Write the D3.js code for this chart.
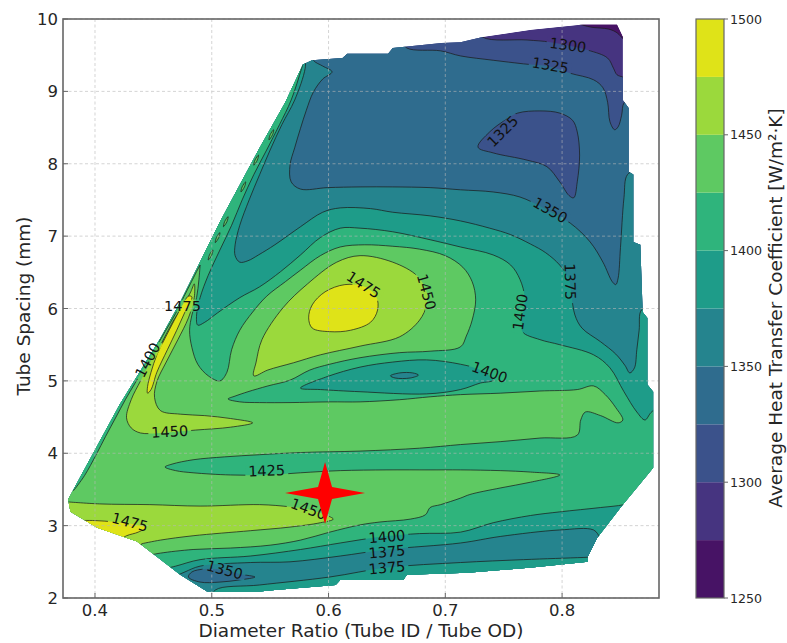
<!DOCTYPE html>
<html>
<head>
<meta charset="utf-8">
<script src="https://cdnjs.cloudflare.com/ajax/libs/d3/7.8.5/d3.min.js"></script>
<style>
  body { margin: 0; background: #fff; }
  text { font-family: "DejaVu Sans", sans-serif; }
</style>
</head>
<body>
<svg id="chart" width="787" height="643"></svg>
<script>
// tick values
const xTicks = [0.4, 0.5, 0.6, 0.7, 0.8];
const yTicks = [2, 3, 4, 5, 6, 7, 8, 9, 10];
const levels = [1250, 1275, 1300, 1325, 1350, 1375, 1400, 1425, 1450, 1475, 1500];
const cbarTicks = [1250, 1300, 1350, 1400, 1450, 1500];

// region where the data exists (diameter ratio, spacing)
const hullOutline = [[0.586,9.43],[0.612,9.46],[0.616,9.52],[0.651,9.52],[0.655,9.60],[0.697,9.67],[0.713,9.68],[0.732,9.75],[0.774,9.85],[0.816,9.92],[0.847,9.92],[0.852,9.75],[0.852,8.88],[0.857,8.77],[0.857,7.89],[0.861,7.85],[0.861,6.92],[0.867,6.88],[0.869,5.95],[0.873,5.87],[0.873,4.95],[0.878,4.85],[0.878,3.80],[0.873,3.70],[0.852,3.29],[0.830,2.83],[0.822,2.57],[0.822,2.50],[0.774,2.42],[0.719,2.35],[0.667,2.32],[0.664,2.25],[0.610,2.25],[0.606,2.18],[0.554,2.11],[0.541,2.09],[0.496,2.09],[0.473,2.32],[0.436,2.78],[0.402,2.97],[0.379,3.19],[0.377,3.36],[0.387,3.66],[0.421,4.67],[0.456,5.59],[0.473,6.09],[0.507,7.20],[0.541,8.22],[0.563,8.85],[0.578,9.37]];

// contour lines
const line1275 = [[0.809,9.96],[0.824,9.89],[0.840,9.86],[0.847,9.81],[0.853,9.71]];
const edge1275 = [[0.867,9.71],[0.867,10.12],[0.809,10.12]];
const line1300 = [[0.726,9.92],[0.732,9.75],[0.770,9.71],[0.790,9.68],[0.822,9.57],[0.839,9.46],[0.844,9.32],[0.847,9.23],[0.852,9.20],[0.860,9.17]];
const line1325 = [[0.661,9.74],[0.667,9.60],[0.696,9.56],[0.713,9.49],[0.741,9.43],[0.767,9.38],[0.790,9.34],[0.807,9.25],[0.827,9.16],[0.835,9.05],[0.839,8.85],[0.841,8.58],[0.845,8.47],[0.848,8.51],[0.851,8.67],[0.853,8.84],[0.860,8.91]];
const island1325 = [[0.728,8.23],[0.738,8.44],[0.751,8.60],[0.762,8.70],[0.781,8.73],[0.798,8.70],[0.809,8.60],[0.813,8.44],[0.815,8.12],[0.813,7.75],[0.810,7.53],[0.806,7.56],[0.798,7.75],[0.787,7.96],[0.770,8.05],[0.741,8.15]];
const line1350 = [[0.583,9.64],[0.587,9.43],[0.595,9.35],[0.603,9.27],[0.595,9.17],[0.587,8.99],[0.581,8.74],[0.576,8.49],[0.571,8.22],[0.567,7.98],[0.568,7.75],[0.576,7.65],[0.599,7.67],[0.627,7.68],[0.655,7.68],[0.687,7.67],[0.713,7.64],[0.741,7.61],[0.764,7.54],[0.784,7.39],[0.807,7.18],[0.824,6.92],[0.835,6.64],[0.843,6.37],[0.846,6.33],[0.848,6.42],[0.850,6.84],[0.853,7.53],[0.856,7.85],[0.867,7.94]];
const line1375 = [[0.580,9.50],[0.580,9.32],[0.571,8.88],[0.560,8.54],[0.550,8.19],[0.541,7.85],[0.532,7.50],[0.524,7.15],[0.520,6.88],[0.520,6.73],[0.524,6.64],[0.531,6.66],[0.540,6.74],[0.554,6.88],[0.576,7.13],[0.595,7.33],[0.610,7.39],[0.636,7.38],[0.655,7.33],[0.687,7.28],[0.713,7.21],[0.738,7.11],[0.756,7.02],[0.773,6.89],[0.786,6.77],[0.798,6.60],[0.806,6.40],[0.808,6.19],[0.811,5.91],[0.817,5.73],[0.833,5.54],[0.846,5.37],[0.854,5.21],[0.858,5.11],[0.862,5.18],[0.864,5.43],[0.866,5.70],[0.868,5.98],[0.880,6.05]];
const line1400 = [[0.581,9.54],[0.577,9.32],[0.568,8.88],[0.558,8.54],[0.547,8.19],[0.536,7.85],[0.526,7.50],[0.517,7.15],[0.507,6.81],[0.497,6.46],[0.490,6.15],[0.487,5.91],[0.488,5.77],[0.494,5.81],[0.505,5.94],[0.524,6.15],[0.541,6.30],[0.559,6.51],[0.576,6.74],[0.593,6.98],[0.610,7.11],[0.627,7.11],[0.655,7.06],[0.687,6.95],[0.713,6.85],[0.741,6.74],[0.756,6.60],[0.764,6.40],[0.768,6.15],[0.766,5.87],[0.766,5.68],[0.781,5.57],[0.798,5.50],[0.827,5.36],[0.841,5.18],[0.853,4.85],[0.864,4.57],[0.871,4.46],[0.876,4.56],[0.884,4.67]];
const blobs1425 = [
  [[0.553,8.47],[0.552,8.40],[0.549,8.33],[0.550,8.40]],
  [[0.540,8.12],[0.539,8.05],[0.536,7.98],[0.537,8.05]],
  [[0.529,7.75],[0.528,7.68],[0.525,7.61],[0.526,7.68]],
  [[0.514,7.27],[0.513,7.20],[0.510,7.13],[0.511,7.20]],
  [[0.507,7.05],[0.506,6.98],[0.503,6.91],[0.504,6.98]],
  [[0.501,6.81],[0.500,6.74],[0.497,6.67],[0.498,6.74]]
];
const line1425 = [[0.490,6.60],[0.489,6.40],[0.487,6.15],[0.483,5.91],[0.481,5.70],[0.483,5.46],[0.488,5.23],[0.497,5.07],[0.507,5.00],[0.513,5.12],[0.517,5.43],[0.524,5.70],[0.535,5.95],[0.547,6.17],[0.563,6.37],[0.576,6.53],[0.593,6.73],[0.610,6.85],[0.631,6.88],[0.655,6.86],[0.678,6.82],[0.700,6.73],[0.715,6.57],[0.723,6.37],[0.726,6.12],[0.723,5.84],[0.718,5.62],[0.713,5.47],[0.687,5.41],[0.661,5.39],[0.627,5.32],[0.601,5.23],[0.584,5.15],[0.567,5.01],[0.548,4.93],[0.531,4.85],[0.520,4.79],[0.514,4.75],[0.524,4.71],[0.541,4.70],[0.567,4.70],[0.601,4.71],[0.627,4.71],[0.661,4.74],[0.687,4.78],[0.713,4.81],[0.747,4.83],[0.781,4.86],[0.813,4.88],[0.827,4.93],[0.837,4.81],[0.846,4.63],[0.852,4.46],[0.848,4.42],[0.833,4.52],[0.820,4.57],[0.816,4.46],[0.813,4.25],[0.781,4.21],[0.747,4.16],[0.713,4.12],[0.678,4.07],[0.627,4.03],[0.576,4.01],[0.541,3.98],[0.511,3.95],[0.484,3.91],[0.466,3.85],[0.460,3.81],[0.469,3.76],[0.484,3.73],[0.516,3.70],[0.547,3.70],[0.576,3.73],[0.610,3.76],[0.650,3.77],[0.687,3.77],[0.713,3.77],[0.747,3.76],[0.773,3.74],[0.798,3.70],[0.773,3.60],[0.747,3.52],[0.721,3.43],[0.713,3.38],[0.696,3.29],[0.687,3.25],[0.683,3.15],[0.670,3.09],[0.644,3.05],[0.627,3.01],[0.601,2.91],[0.576,2.80],[0.550,2.73],[0.516,2.69],[0.484,2.67],[0.456,2.62],[0.443,2.58]];
const edge1425 = [[0.434,2.32],[0.404,2.46],[0.366,3.08],[0.361,3.47]];
const ridge1425 = [[0.382,3.49],[0.391,3.69],[0.401,3.98],[0.409,4.23],[0.418,4.50],[0.426,4.74],[0.434,4.96],[0.442,5.18],[0.451,5.43],[0.460,5.68],[0.469,5.93],[0.476,6.16],[0.482,6.35],[0.487,6.51]];
const loop1450 = [[0.536,5.07],[0.538,5.26],[0.543,5.57],[0.561,6.01],[0.582,6.34],[0.607,6.64],[0.627,6.73],[0.655,6.64],[0.676,6.45],[0.684,6.23],[0.684,6.05],[0.678,5.84],[0.661,5.61],[0.627,5.48],[0.593,5.36],[0.570,5.25],[0.548,5.15]];
const ridge1450 = [[0.485,6.34],[0.485,6.15],[0.480,5.87],[0.471,5.57],[0.461,5.26],[0.453,4.99],[0.451,4.77],[0.456,4.59],[0.473,4.54],[0.494,4.52],[0.516,4.48],[0.535,4.42],[0.516,4.36],[0.486,4.32],[0.456,4.28],[0.439,4.28],[0.431,4.35],[0.427,4.49],[0.431,4.74],[0.439,5.00],[0.447,5.25],[0.457,5.52],[0.466,5.80],[0.476,6.05],[0.482,6.23]];
const low1450 = [[0.375,3.33],[0.404,3.30],[0.447,3.29],[0.490,3.27],[0.541,3.29],[0.567,3.26],[0.584,3.22],[0.597,3.15],[0.604,3.09],[0.593,3.04],[0.567,2.98],[0.533,2.93],[0.484,2.86],[0.456,2.80],[0.440,2.75]];
const edge1450 = [[0.437,2.53],[0.396,2.53],[0.353,3.08],[0.353,3.36]];
const peak1475 = [[0.583,5.87],[0.586,6.05],[0.597,6.23],[0.614,6.33],[0.631,6.30],[0.641,6.16],[0.642,5.98],[0.636,5.81],[0.619,5.70],[0.601,5.68],[0.586,5.73]];
const ridge1475 = [[0.483,6.16],[0.477,5.95],[0.470,5.70],[0.462,5.43],[0.453,5.12],[0.448,4.88],[0.445,4.83],[0.445,4.92],[0.448,5.12],[0.453,5.36],[0.460,5.59],[0.468,5.84],[0.475,6.05],[0.480,6.17]];
const low1475 = [[0.385,3.07],[0.400,3.07],[0.417,3.05],[0.433,3.02],[0.443,2.97],[0.437,2.91],[0.427,2.86],[0.420,2.79]];
const edge1475 = [[0.404,2.73],[0.379,2.94]];
const pit1400 = [[0.576,4.90],[0.599,5.06],[0.627,5.19],[0.655,5.26],[0.684,5.29],[0.713,5.23],[0.730,5.15],[0.741,5.01],[0.730,4.97],[0.713,4.88],[0.684,4.82],[0.627,4.85],[0.593,4.88]];
const pit1375 = [[0.653,5.07],[0.661,5.11],[0.672,5.11],[0.677,5.08],[0.670,5.04],[0.657,5.04]];
const low1400 = [[0.456,2.39],[0.469,2.44],[0.490,2.53],[0.533,2.58],[0.576,2.67],[0.610,2.76],[0.647,2.85],[0.678,2.89],[0.713,2.91],[0.741,3.04],[0.773,3.14],[0.798,3.19],[0.833,3.25],[0.853,3.29],[0.867,3.36]];
const low1375a = [[0.466,2.28],[0.477,2.36],[0.490,2.44],[0.533,2.49],[0.567,2.50],[0.610,2.58],[0.650,2.67],[0.713,2.76],[0.747,2.85],[0.798,2.94],[0.827,2.94],[0.833,2.83],[0.841,2.73]];
const low1375b = [[0.499,1.97],[0.503,2.11],[0.541,2.18],[0.601,2.29],[0.650,2.42],[0.713,2.49],[0.767,2.53],[0.818,2.56],[0.833,2.57]];
const pit1350 = [[0.480,2.29],[0.483,2.36],[0.494,2.40],[0.509,2.39],[0.524,2.33],[0.537,2.29],[0.524,2.25],[0.507,2.22],[0.490,2.22]];

// inline labels: x, y, text, angle
const contourLabels = [
  [0.805, 9.64, '1300', 8], [0.790, 9.36, '1325', 10], [0.749, 8.45, '1325', -45],
  [0.790, 7.36, '1350', 30], [0.807, 6.37, '1375', 88], [0.764, 5.95, '1400', -82],
  [0.684, 6.23, '1450', 75], [0.630, 6.33, '1475', 33], [0.475, 6.04, '1475', 0],
  [0.445, 5.29, '1400', -62], [0.738, 5.12, '1400', 20], [0.464, 4.30, '1450', -3],
  [0.547, 3.76, '1425', -2], [0.430, 3.05, '1475', 15], [0.583, 3.23, '1450', 20],
  [0.650, 2.85, '1400', -5], [0.650, 2.64, '1375', -5], [0.650, 2.42, '1375', -5],
  [0.511, 2.39, '1350', 15]
];
const optimum = [0.597, 3.45];

const svg = d3.select('#chart');
const defs = svg.append('defs');

const x = d3.scaleLinear().domain([0.3726, 0.883]).range([63, 659]);
const y = d3.scaleLinear().domain([2, 10]).range([598, 19]);
const cbY = d3.scaleLinear().domain([1250, 1500]).range([598, 19]);
const bandColor = lo => d3.interpolateViridis(((lo - 1250) / 25 + 0.5) / 10);

const smooth = d3.line().x(d => x(d[0])).y(d => y(d[1])).curve(d3.curveCatmullRom.alpha(0.5));
const ring = d3.line().x(d => x(d[0])).y(d => y(d[1])).curve(d3.curveCatmullRomClosed.alpha(0.5));
const straight = d3.line().x(d => x(d[0])).y(d => y(d[1]));

// join pieces into one closed path; pieces outside the data region get clipped
function joined(parts) {
  let d = '';
  parts.forEach((p, i) => {
    let s = (p[1] ? smooth : straight)(p[0]);
    if (i > 0) s = 'L' + s.slice(1);
    d += s;
  });
  return d + 'Z';
}
// everything below a line that crosses the region
function below(line) {
  const a = line[0], b = line[line.length - 1];
  return joined([[line, true], [[[0.95, b[1]], [0.95, 1.4], [0.33, 1.4], [0.33, a[1]]], false]]);
}

const layers = [
  { lo: 1275, d: straight(hullOutline) + 'Z', bare: true },
  { lo: 1250, d: joined([[line1275, true], [edge1275, false]]) },
  { lo: 1300, d: below(line1300) },
  { lo: 1325, d: below(line1325) },
  { lo: 1300, d: ring(island1325) },
  { lo: 1350, d: below(line1350) },
  { lo: 1375, d: below(line1375) },
  { lo: 1400, d: below(line1400) }
];
blobs1425.forEach(b => layers.push({ lo: 1425, d: ring(b) }));
layers.push(
  { lo: 1425, d: joined([[line1425, true], [edge1425, false], [ridge1425, true]]) },
  { lo: 1450, d: ring(loop1450) },
  { lo: 1450, d: ring(ridge1450) },
  { lo: 1450, d: joined([[low1450, true], [edge1450, false]]) },
  { lo: 1475, d: ring(peak1475) },
  { lo: 1475, d: ring(ridge1475) },
  { lo: 1475, d: joined([[low1475, true], [edge1475, false]]) },
  { lo: 1375, d: ring(pit1400) },
  { lo: 1350, d: ring(pit1375) },
  { lo: 1375, d: below(low1400) },
  { lo: 1350, d: below(low1375a) },
  { lo: 1375, d: below(low1375b) },
  { lo: 1325, d: ring(pit1350) }
);

defs.append('clipPath').attr('id', 'hullClip')
  .append('path').attr('d', straight(hullOutline) + 'Z');
const mask = defs.append('mask').attr('id', 'labelGap')
  .attr('maskUnits', 'userSpaceOnUse').attr('x', 0).attr('y', 0).attr('width', 787).attr('height', 643);
mask.append('rect').attr('width', 787).attr('height', 643).attr('fill', 'white');

const under = svg.append('g').attr('clip-path', 'url(#hullClip)');
const over = svg.append('g').attr('clip-path', 'url(#hullClip)').attr('mask', 'url(#labelGap)');
layers.forEach(L => {
  under.append('path').attr('d', L.d).attr('fill', bandColor(L.lo));
  over.append('path').attr('d', L.d).attr('fill', bandColor(L.lo))
    .attr('stroke', L.bare ? 'none' : '#1b1b1b').attr('stroke-width', 0.8)
    .attr('stroke-opacity', 0.9).attr('stroke-linejoin', 'round');
});

// grid
const grid = svg.append('g').attr('stroke', '#b8b8b8').attr('stroke-width', 0.8)
  .attr('stroke-dasharray', '3,2.5').attr('opacity', 0.75);
xTicks.forEach(v => grid.append('line').attr('x1', x(v)).attr('x2', x(v)).attr('y1', 19).attr('y2', 598));
yTicks.forEach(v => grid.append('line').attr('x1', 63).attr('x2', 659).attr('y1', y(v)).attr('y2', y(v)));

// contour labels
const lbl = svg.append('g');
contourLabels.forEach(([lx, ly, txt, ang]) => {
  const tr = `translate(${x(lx)},${y(ly)}) rotate(${ang})`;
  const t = lbl.append('text').attr('transform', tr).attr('text-anchor', 'middle')
    .attr('dy', '0.36em').attr('font-size', 14.5).attr('fill', '#111').text(txt);
  const w = t.node().getComputedTextLength();
  mask.append('rect').attr('transform', tr).attr('x', -w / 2 - 3).attr('y', -6)
    .attr('width', w + 6).attr('height', 12).attr('fill', 'black');
});

// frame and ticks
svg.append('rect').attr('x', 63).attr('y', 19).attr('width', 596).attr('height', 579)
  .attr('fill', 'none').attr('stroke', '#666').attr('stroke-width', 1.6);
const ax = svg.append('g').attr('fill', '#262626').attr('font-size', 16.5);
xTicks.forEach(v => {
  svg.append('line').attr('x1', x(v)).attr('x2', x(v)).attr('y1', 598).attr('y2', 593).attr('stroke', '#666');
  ax.append('text').attr('x', x(v)).attr('y', 616).attr('text-anchor', 'middle').text(d3.format('.1f')(v));
});
yTicks.forEach(v => {
  svg.append('line').attr('x1', 63).attr('x2', 68).attr('y1', y(v)).attr('y2', y(v)).attr('stroke', '#666');
  ax.append('text').attr('x', 58).attr('y', y(v) + 6).attr('text-anchor', 'end').text(v);
});
svg.append('text').attr('x', 361).attr('y', 637).attr('text-anchor', 'middle')
  .attr('font-size', 18.5).attr('fill', '#262626').text('Diameter Ratio (Tube ID / Tube OD)');
svg.append('text').attr('transform', 'translate(30,306) rotate(-90)').attr('text-anchor', 'middle')
  .attr('font-size', 18.5).attr('fill', '#262626').text('Tube Spacing (mm)');

// colorbar
const cb = svg.append('g');
levels.slice(0, -1).forEach(lo => {
  cb.append('rect').attr('x', 696).attr('y', cbY(lo + 25)).attr('width', 28)
    .attr('height', cbY(lo) - cbY(lo + 25)).attr('fill', bandColor(lo));
});
cb.append('rect').attr('x', 696).attr('y', 19).attr('width', 28).attr('height', 579)
  .attr('fill', 'none').attr('stroke', '#666').attr('stroke-width', 1.2);
cbarTicks.forEach(v => {
  cb.append('line').attr('x1', 724).attr('x2', 728).attr('y1', cbY(v)).attr('y2', cbY(v)).attr('stroke', '#666');
  cb.append('text').attr('x', 730).attr('y', cbY(v) + 4.5).attr('font-size', 12.6).attr('fill', '#262626').text(v);
});
svg.append('text').attr('transform', 'translate(782,308) rotate(-90)').attr('text-anchor', 'middle')
  .attr('font-size', 18.5).attr('fill', '#262626').text('Average Heat Transfer Coefficient [W/m\u00b2\u00b7K]');

// best design marker
svg.append('path')
  .attr('transform', `translate(${x(optimum[0])},${y(optimum[1])})`)
  .attr('d', 'M40,0 L7,-6 L0,-31 L-7,-6 L-40,0 L-7,6 L0,31 L7,6 Z')
  .attr('fill', 'red');
</script>
</body>
</html>
